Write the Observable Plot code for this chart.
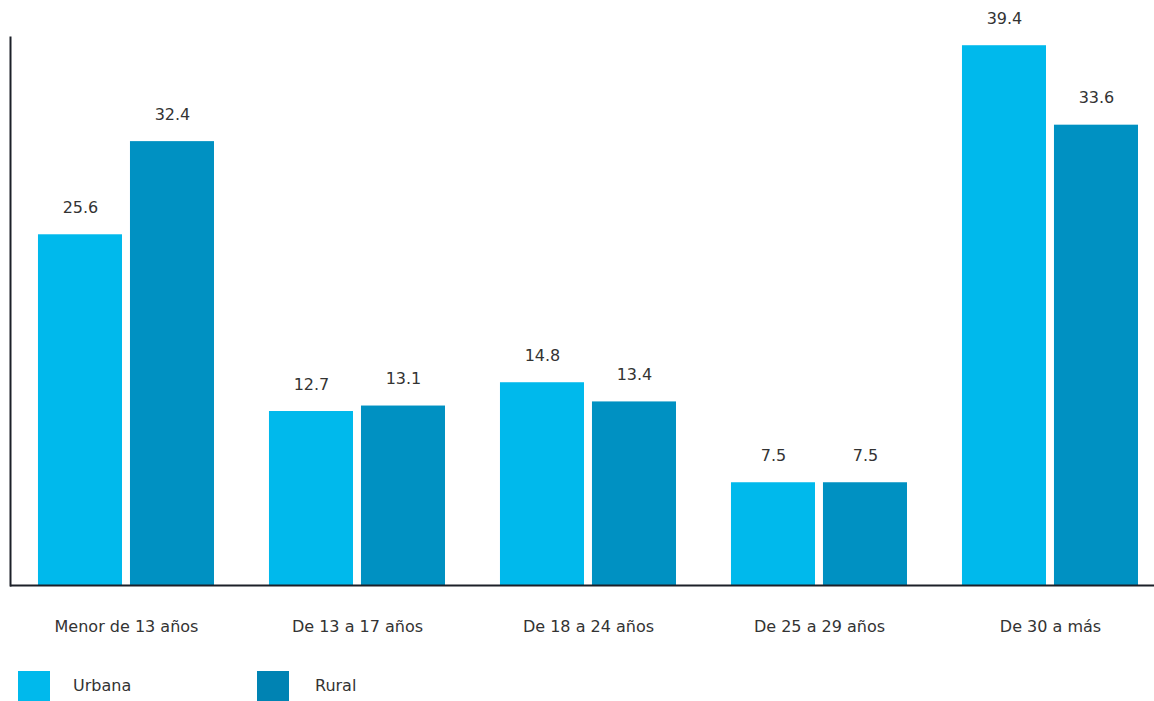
<!DOCTYPE html>
<html>
<head>
<meta charset="utf-8">
<script src="https://cdn.jsdelivr.net/npm/d3@7"></script>
<script src="https://cdn.jsdelivr.net/npm/@observablehq/plot@0.6"></script>
<style>
  html, body { margin: 0; padding: 0; background: #fff; }
  body { width: 1154px; height: 701px; overflow: hidden; font-family: "DejaVu Sans", sans-serif; color: #333; }
  #legend { position: relative; height: 46px; }
  .sw { position: absolute; top: 16px; width: 32px; height: 30px; }
  .lb { position: absolute; top: 16px; line-height: 30px; font-size: 16px; color: #333; }
</style>
</head>
<body>
<div id="chart"></div>
<div id="legend"></div>
<script>
const groups = ["Menor de 13 años", "De 13 a 17 años", "De 18 a 24 años", "De 25 a 29 años", "De 30 a más"];
const zones = ["Urbana", "Rural"];
const urbana = [25.6, 12.7, 14.8, 7.5, 39.4];
const rural = [32.4, 13.1, 13.4, 7.5, 33.6];
const colors = ["#00B9EC", "#0091C2"];
const legendColors = ["#00B9EC", "#0083B3"];

const urbanaData = groups.map((g, i) => ({group: g, zone: "Urbana", value: urbana[i]}));
const ruralData = groups.map((g, i) => ({group: g, zone: "Rural", value: rural[i]}));

// each group band holds two bars side by side: Urbana on the left half, Rural on the right half
const barW = 84, gap = 8, band = 2 * barW + gap;

const chart = Plot.plot({
  width: 1154,
  height: 655,
  marginLeft: 10,
  marginRight: 0,
  marginTop: 37,
  marginBottom: 70,
  style: {fontFamily: "DejaVu Sans, sans-serif", color: "#333", background: "#fff"},
  x: {domain: groups, paddingInner: 0.238, paddingOuter: 0.0952, align: 0.636, round: false, label: null},
  y: {domain: [0, 40], axis: null},
  color: {domain: zones, range: colors},
  marks: [
    Plot.barY(urbanaData, {x: "group", y: "value", fill: "zone", insetRight: band - barW}),
    Plot.barY(ruralData, {x: "group", y: "value", fill: "zone", insetLeft: band - barW}),
    Plot.text(urbanaData, {x: "group", y: "value", text: d => d.value.toFixed(1), dx: -(gap + barW) / 2, dy: -27, fontSize: 16, fill: "#333"}),
    Plot.text(ruralData, {x: "group", y: "value", text: d => d.value.toFixed(1), dx: (gap + barW) / 2, dy: -27, fontSize: 16, fill: "#333"}),
    Plot.axisX({anchor: "bottom", tickSize: 0, tickPadding: 35, fontSize: 16, fill: "#333", label: null}),
    Plot.ruleY([0], {stroke: "#1c2029", strokeWidth: 2}),
    Plot.frame({anchor: "left", stroke: "#1c2029", strokeWidth: 2})
  ]
});
document.getElementById("chart").appendChild(chart);

const legend = document.getElementById("legend");
const swX = [18, 257];
const lbX = [73, 315];
zones.forEach((z, i) => {
  const s = document.createElement("div");
  s.className = "sw";
  s.style.left = swX[i] + "px";
  s.style.background = legendColors[i];
  legend.appendChild(s);
  const t = document.createElement("div");
  t.className = "lb";
  t.style.left = lbX[i] + "px";
  t.textContent = z;
  legend.appendChild(t);
});
</script>
</body>
</html>
